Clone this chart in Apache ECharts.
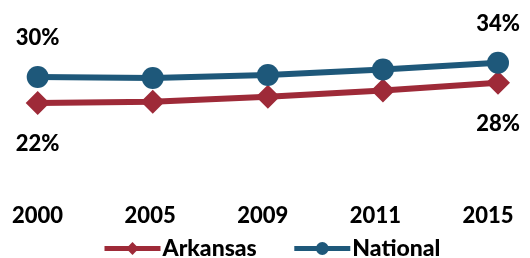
<!DOCTYPE html>
<html>
<head>
<meta charset="utf-8">
<script src="https://cdn.jsdelivr.net/npm/echarts@6/dist/echarts.min.js"></script>
<style>html,body{margin:0;padding:0;background:#fff}#c{width:530px;height:258px}</style>
</head>
<body>
<div id="c"></div>
<script>
var categories = ['2000', '2005', '2009', '2011', '2015'];
var arkansas = [22.35, 22.7, 24.2, 26.0, 28.3];
var national = [30.0, 29.7, 30.6, 32.2, 34.2];
var seriesNames = ['Arkansas', 'National'];

var FONT = 'Lato';
var chart = echarts.init(document.getElementById('c'), null, {renderer: 'canvas'});
function endLabel(p) {
  var last = categories.length - 1;
  return (p.dataIndex === 0 || p.dataIndex === last) ? Math.round(p.value) + '%' : '';
}
var labelStyle = {fontFamily: FONT, fontWeight: 900, fontSize: 22, color: '#000'};
chart.setOption({
  animation: false,
  grid: [
    {left: 37.7, right: 32, top: 9, bottom: 79},
    {left: 37.5, right: 42, top: 9, bottom: 79}
  ],
  xAxis: [
    {type: 'category', gridIndex: 0, data: categories, boundaryGap: false,
     axisLine: {show: false}, axisTick: {show: false}, axisLabel: {show: false}, splitLine: {show: false}},
    {type: 'category', gridIndex: 1, data: categories, boundaryGap: false,
     axisLine: {show: false}, axisTick: {show: false}, splitLine: {show: false},
     axisLabel: Object.assign({margin: 26, interval: 0}, labelStyle)}
  ],
  yAxis: [
    {type: 'value', gridIndex: 0, min: 0, max: 50, show: false},
    {type: 'value', gridIndex: 1, min: 0, max: 50, show: false}
  ],
  legend: {
    left: 97, top: 232, itemWidth: 56, itemHeight: 16, itemGap: 35,
    lineStyle: {width: 5},
    textStyle: Object.assign({}, labelStyle, {fontSize: 23, padding: [0, 0, 0, -3]}),
    data: seriesNames
  },
  series: [
    {name: seriesNames[0], type: 'line', data: arkansas, symbol: 'diamond', symbolSize: 24,
     lineStyle: {width: 6, color: '#9e2a38'}, itemStyle: {color: '#9e2a38'},
     label: Object.assign({show: true, position: 'bottom', distance: 18, formatter: endLabel}, labelStyle)},
    {name: seriesNames[1], type: 'line', data: national, symbol: 'circle', symbolSize: 22,
     lineStyle: {width: 6, color: '#1e587a'}, itemStyle: {color: '#1e587a'},
     label: Object.assign({show: true, position: 'top', distance: 17, formatter: endLabel}, labelStyle)}
  ]
});
</script>
</body>
</html>
